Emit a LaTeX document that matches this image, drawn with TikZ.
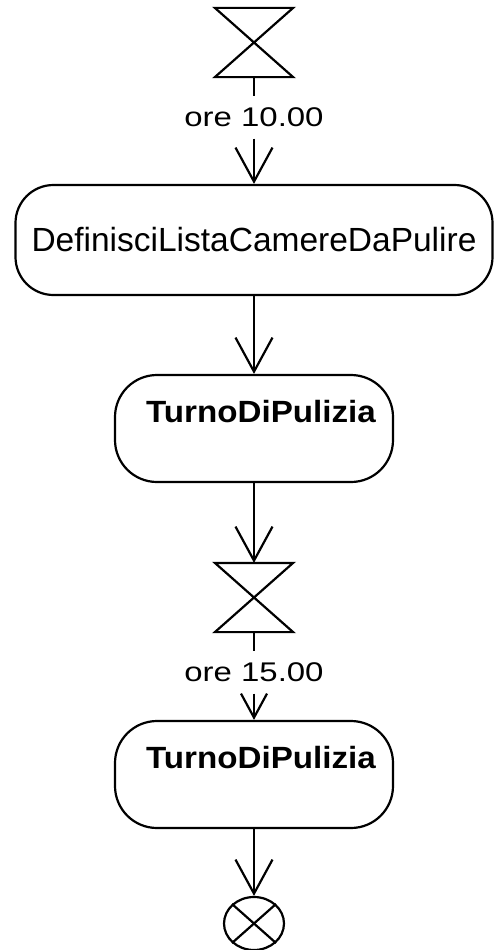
\documentclass[tikz,border=0pt]{standalone}
\usepackage{fontspec}
\setmainfont{Liberation Sans}
\newfontfamily\labelfont[FakeStretch=1.22]{Liberation Sans}
\newfontfamily\turnofont[FakeStretch=1.08]{Liberation Sans}
\usetikzlibrary{arrows.meta,shapes.geometric}
\tikzset{%
    every node/.style={inner sep=0pt, line width=2.2pt},
    action/.style={draw, rounded corners=42pt, minimum width=278pt,
        font=\turnofont\bfseries\fontsize{30.7}{36}\selectfont,
        text height=47pt, text depth=60pt},
    timer/.style={minimum width=76pt, minimum height=67pt},
    timelabel/.style={inner ysep=10.5pt, fill=white,
        font=\labelfont\fontsize{27}{32}\selectfont},
    final/.style={draw, ellipse, minimum width=60pt, minimum height=53pt},
    flow/.style={-{Straight Barb[length=34pt, width=37pt]}},
    shortflow/.style={-{Straight Barb[length=24pt, width=26pt]}}
}

\begin{document}
\begin{tikzpicture}[x=1pt, y=-1pt, line width=2.2pt]
  \useasboundingbox (0,0) rectangle (494,950);

  \node (hg1) [timer] at (254, 42.5) {};
  \node (lbl1) [timelabel] at (254, 117.5) {ore 10.00};

  \node (def) [draw, rounded corners=38pt, minimum width=477pt,
    minimum height=110pt, font=\fontsize{33.5}{40}\selectfont]
    at (254, 240) {DefinisciListaCamereDaPulire};

  \node (turno1) [action] at (254, 428.5) {\hspace*{14pt}TurnoDiPulizia};

  \node (hg2) [timer] at (254, 597.5) {};
  \node (lbl2) [timelabel] at (254, 672.5) {ore 15.00};

  \node (turno2) [action] at (254, 774.5) {\hspace*{14pt}TurnoDiPulizia};

  \node (fin) [final] at (254, 923.5) {};

  \draw (hg1.north west) -- (hg1.north east) -- (hg1.south west)
    -- (hg1.south east) -- cycle;
  \draw (hg2.north west) -- (hg2.north east) -- (hg2.south west)
    -- (hg2.south east) -- cycle;
  \draw (fin.north west) -- (fin.south east);
  \draw (fin.north east) -- (fin.south west);

  \draw (hg1) edge (lbl1);
  \draw (lbl1) edge [flow] (def);
  \draw (def) edge [flow] (turno1);
  \draw (turno1) edge [flow] (hg2);
  \draw (hg2) edge (lbl2);
  \draw (lbl2) edge [shortflow] (turno2);
  \draw (turno2) edge [flow] (fin);

\end{tikzpicture}
\end{document}
